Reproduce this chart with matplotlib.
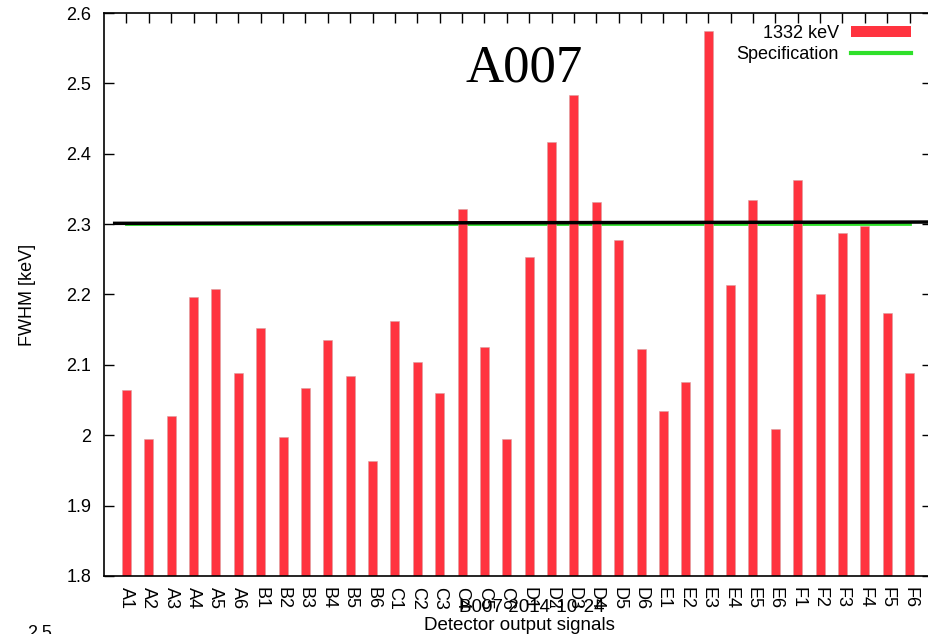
import matplotlib
matplotlib.use("Agg")
import matplotlib.pyplot as plt
from matplotlib.patches import Patch
from matplotlib.lines import Line2D

plt.rcParams['font.family'] = ['Liberation Sans', 'DejaVu Sans']

# data
channels = ['A1', 'A2', 'A3', 'A4', 'A5', 'A6',
            'B1', 'B2', 'B3', 'B4', 'B5', 'B6',
            'C1', 'C2', 'C3', 'C4', 'C5', 'C6',
            'D1', 'D2', 'D3', 'D4', 'D5', 'D6',
            'E1', 'E2', 'E3', 'E4', 'E5', 'E6',
            'F1', 'F2', 'F3', 'F4', 'F5', 'F6']
fwhm_1332 = [2.064, 1.995, 2.028, 2.196, 2.208, 2.088,
             2.153, 1.997, 2.067, 2.135, 2.084, 1.963,
             2.163, 2.104, 2.060, 2.321, 2.125, 1.995,
             2.253, 2.416, 2.484, 2.332, 2.278, 2.122,
             2.035, 2.076, 2.574, 2.214, 2.334, 2.009,
             2.363, 2.201, 2.287, 2.298, 2.174, 2.088]
spec_value = 2.3
black_line_x = [-0.6, 36.5]
black_line_y = [2.3011, 2.3030]
y_ticks = [1.8, 1.9, 2.0, 2.1, 2.2, 2.3, 2.4, 2.5, 2.6]
y_ticklabels = ['1.8', '1.9', '2', '2.1', '2.2', '2.3', '2.4', '2.5', '2.6']

red = '#ff333f'
green = '#2fe02a'

W, H = 929, 634
fig = plt.figure(figsize=(W / 100, H / 100), dpi=100)
ax = fig.add_axes([104 / W, 1 - 576 / H, (932 - 104) / W, (576 - 13) / H])

x = list(range(len(channels)))
ax.plot(x, [spec_value] * len(x), color=green, lw=2, zorder=1.5)
ax.bar(x, [v - 1.8 for v in fwhm_1332], bottom=1.8, width=0.4, color=red,
       edgecolor='#d9a0a0', linewidth=0.4, zorder=2)
ax.plot(black_line_x, black_line_y, color='black', lw=2.5, zorder=4,
        solid_capstyle='butt', clip_on=False)

ax.set_xlim(-1, 36)
ax.set_ylim(1.8, 2.6)
ax.set_xticks(x)
ax.set_xticklabels(channels, rotation=-90, fontsize=13)
ax.set_yticks(y_ticks)
ax.set_yticklabels(y_ticklabels, fontsize=13)
ax.tick_params(axis='x', direction='in', length=7, width=1, top=True,
               bottom=False, pad=8)
ax.tick_params(axis='y', direction='in', length=7, width=1, right=True,
               pad=9)
for s in ax.spines.values():
    s.set_linewidth(1.2)

ax.set_ylabel('FWHM [keV]', fontsize=13, labelpad=22)

fig.text(519 / W, 1 - 625 / H, 'Detector output signals', fontsize=13.5,
         ha='center', va='center')
fig.text(532 / W, 1 - 607 / H, 'B007 2014-10-24', fontsize=13.5,
         ha='center', va='center')
fig.text(524 / W, 1 - 68 / H, 'A007', fontsize=38,
         family='Liberation Serif', ha='center', va='center')
# top of a tick label from the next chart, cut off by the image edge
fig.text(27 / W, 1 - 625 / H, '2.5', fontsize=13, ha='left', va='top')

handles = [Patch(facecolor=red, edgecolor='none'),
           Line2D([], [], color=green, lw=3)]
ax.legend(handles, ['1332 keV', 'Specification'], loc='upper right',
          bbox_to_anchor=(911 / W, 1 - 25 / H),
          bbox_transform=fig.transFigure, frameon=False, fontsize=13,
          markerfirst=False, borderpad=0, borderaxespad=0,
          handlelength=3.3, handleheight=0.55, handletextpad=0.7,
          labelspacing=0.2)

fig.savefig('out.png', dpi=100)
